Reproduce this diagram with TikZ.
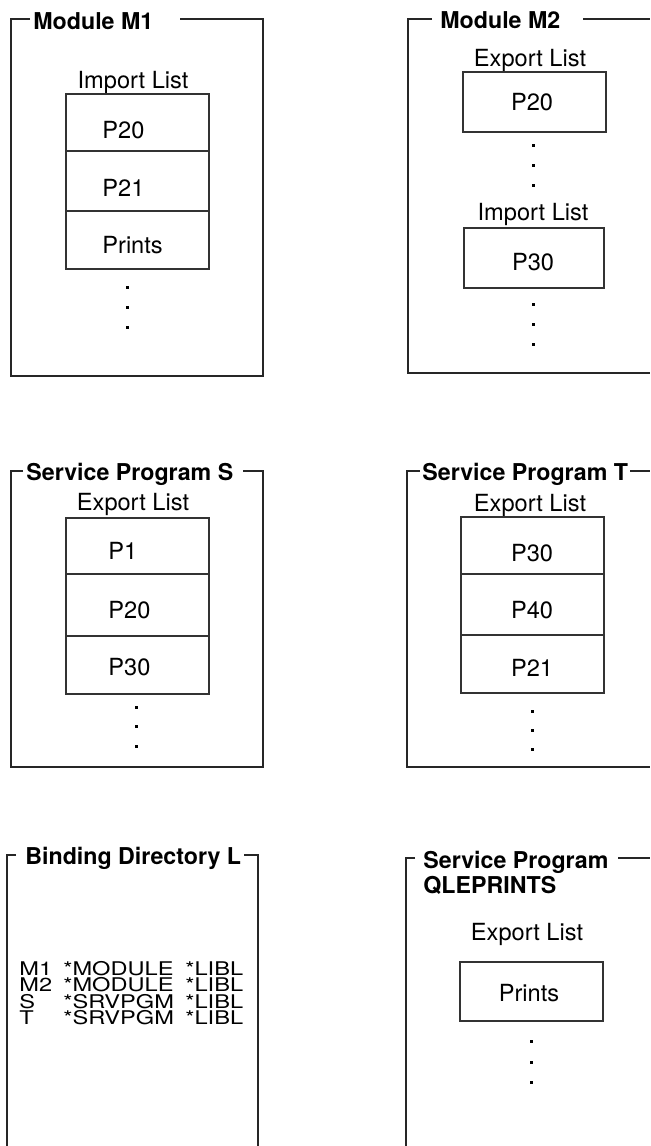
\documentclass[tikz,border=0pt]{standalone}
\usepackage{fontspec}
\setmainfont{TeX Gyre Heros}

\begin{document}
\begin{tikzpicture}[x=0.5pt,y=-0.5pt,
		frame/.style={line width=0.8pt,draw=black!85},
		cell/.style={line width=0.6pt,draw=black!80},
		title/.style={font=\fontsize{11.6}{10.5}\selectfont\bfseries,inner sep=0pt,anchor=base west,align=left},
		txt/.style={font=\fontsize{11.8}{14}\selectfont,inner sep=0pt,anchor=base},
		entry/.style={txt,anchor=base west}]
			\useasboundingbox (0,0) rectangle (650,1146);
			
			% Module M1
			\node[title] (m1title) at (33,29) {Module M1};
			\draw[frame] (30,19) -- (11,19) -- (11,376) -- (263,376) -- (263,19) -- (180,19);
			\node[txt] (m1imp) at (133,88) {Import List};
			\draw[cell] (66,94) rectangle (209,269);
			\draw[cell] (66,151) -- (209,151);
			\draw[cell] (66,211) -- (209,211);
			\node[entry] (m1p20) at (102,138) {P20};
			\node[entry] (m1p21) at (102,196) {P21};
			\node[entry] (m1prints) at (102,253) {Prints};
			\foreach \y in {286,306,326}
				\fill (125.5,\y) rectangle +(3,3);
			
			% Module M2
			\node[title] (m2title) at (440,28) {Module M2};
			\draw[frame] (432,19) -- (408,19) -- (408,373) -- (650,373);
			\draw[frame] (583,19) -- (650,19);
			\node[txt] (m2exp) at (530,66) {Export List};
			\draw[cell] (463,72) rectangle (606,132);
			\node[txt] (m2p20) at (532,110) {P20};
			\foreach \y in {144,164,184}
				\fill (531.5,\y) rectangle +(3,3);
			\node[txt] (m2imp) at (533,220) {Import List};
			\draw[cell] (464,228) rectangle (604,288);
			\node[txt] (m2p30) at (533,270) {P30};
			\foreach \y in {303,323,343}
				\fill (531.5,\y) rectangle +(3,3);
			
			% Service Program S
			\node[title] (stitle) at (26,480) {Service Program S};
			\draw[frame] (23,471) -- (11,471) -- (11,767) -- (263,767) -- (263,471) -- (243,471);
			\node[txt] (sexp) at (133,510) {Export List};
			\draw[cell] (66,518) rectangle (209,694);
			\draw[cell] (66,574) -- (209,574);
			\draw[cell] (66,636) -- (209,636);
			\node[entry] (sp1) at (108,559) {P1};
			\node[entry] (sp20) at (108,618) {P20};
			\node[entry] (sp30) at (108,675) {P30};
			\foreach \y in {706,725,745}
				\fill (134.5,\y) rectangle +(3,3);
			
			% Service Program T
			\node[title] (ttitle) at (422,480) {Service Program T};
			\draw[frame] (420,471) -- (407,471) -- (407,767) -- (650,767);
			\draw[frame] (630,471) -- (650,471);
			\node[txt] (texp) at (530,511) {Export List};
			\draw[cell] (461,517) rectangle (604,693);
			\draw[cell] (461,574) -- (604,574);
			\draw[cell] (461,635) -- (604,635);
			\node[txt] (tp30) at (532,561) {P30};
			\node[txt] (tp40) at (532,618) {P40};
			\node[txt] (tp21) at (532,676) {P21};
			\foreach \y in {710,729,748}
				\fill (530.5,\y) rectangle +(3,3);
			
			% Binding Directory L
			\node[title] (ltitle) at (25,864) {Binding Directory L};
			\draw[frame] (16,855) -- (7,855) -- (7,1146);
			\draw[frame] (244,855) -- (258,855) -- (258,1146);
			\foreach \obj/\kind [count=\i] in {M1/MODULE,M2/MODULE,S/SRVPGM,T/SRVPGM}{
				\node[entry] (lobj\i) at (19,958.5+16.5*\i) {\scalebox{1}[0.8]{\obj}};
				\node[entry] (lkind\i) at (63,958.5+16.5*\i) {\scalebox{1}[0.8]{*\kind}};
				\node[entry] (llib\i) at (185,958.5+16.5*\i) {\scalebox{1}[0.8]{*LIBL}};
			}
			
			% Service Program QLEPRINTS
			\node[title] (qtitle) at (423,893) {Service Program\\QLEPRINTS};
			\draw[frame] (415,858) -- (406,858) -- (406,1146);
			\draw[frame] (618,858) -- (650,858);
			\node[txt] (qexp) at (527,940) {Export List};
			\draw[cell] (460,962) rectangle (603,1021);
			\node[txt] (qprints) at (529,1001) {Prints};
			\foreach \y in {1040,1061,1081}
				\fill (529.5,\y) rectangle +(3,3);
			
		\end{tikzpicture}
\end{document}
